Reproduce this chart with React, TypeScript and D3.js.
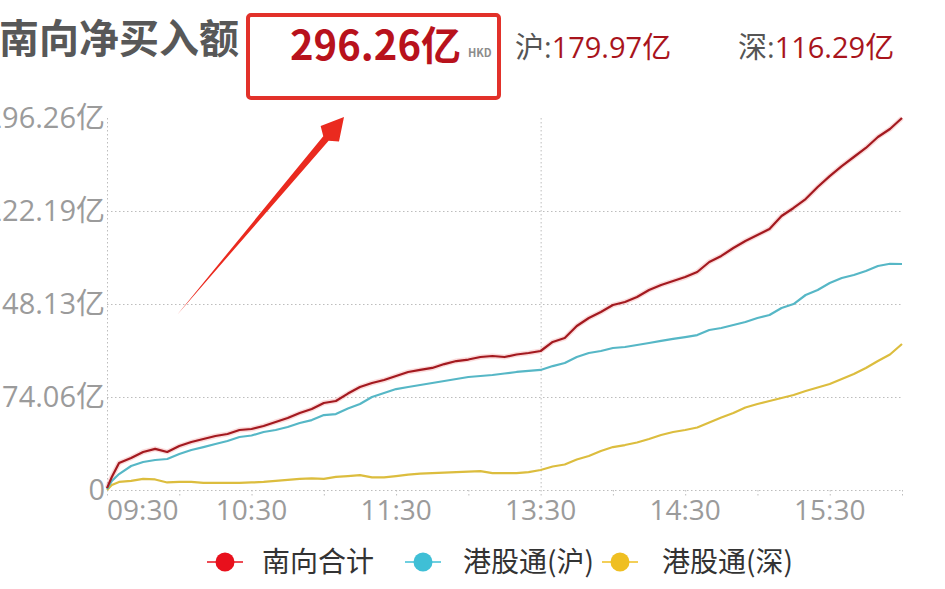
import * as d3 from "d3";
import React, { useEffect, useRef } from "react";

// sample times (trading minutes, lunch 12:00-13:00 skipped)
const times = [
    "09:30", "09:32", "09:35", "09:40", "09:45", "09:50", "09:55", "10:00", "10:05", "10:10",
    "10:15", "10:20", "10:25", "10:30", "10:35", "10:40", "10:45", "10:50", "10:55", "11:00",
    "11:05", "11:10", "11:15", "11:20", "11:25", "11:30", "11:35", "11:40", "11:45", "11:50",
    "11:55", "12:00", "13:05", "13:10", "13:15", "13:20", "13:25", "13:30", "13:35", "13:40",
    "13:45", "13:50", "13:55", "14:00", "14:05", "14:10", "14:15", "14:20", "14:25", "14:30",
    "14:35", "14:40", "14:45", "14:50", "14:55", "15:00", "15:05", "15:10", "15:15", "15:20",
    "15:25", "15:30", "15:35", "15:40", "15:45", "15:50", "15:55", "16:00",
];

// 南向合计
const southTotal = [
    1.5, 10.4, 21.5, 25.5, 30.3, 32.7, 30.3, 35, 38.2, 40.6,
    43, 44.6, 47.8, 48.6, 51, 54.2, 57.3, 61.3, 64.5, 69.3,
    70.9, 76.8, 82, 85.2, 87.6, 90.8, 94, 95.6, 97.2, 100.3,
    102.7, 103.9, 105.9, 106.7, 105.9, 107.9, 109.1, 110.7, 117.9, 121,
    130.6, 137, 141.8, 147.3, 149.7, 153.7, 159.3, 163.3, 166.4, 169.6,
    173.6, 181.6, 186.4, 192.7, 198.3, 203, 207.9, 218.2, 224.6, 231.7,
    241.3, 250, 258, 265.2, 272.4, 281.1, 287.5, 296.26,
];

// 港股通(沪)
const shanghai = [
    0.8, 7.2, 12.7, 19.1, 22.3, 23.9, 24.7, 28.7, 31.9, 34.2,
    36.6, 39, 42.2, 43.4, 46.2, 47.8, 50.2, 53.4, 55.7, 59.7,
    60.5, 64.9, 68.5, 74.1, 77.2, 80.4, 82, 83.6, 85.2, 86.8,
    88.4, 90, 90.8, 91.6, 92.8, 94, 94.8, 95.6, 98.7, 101.1,
    105.9, 109.1, 110.7, 113.1, 113.9, 115.5, 117.1, 118.7, 120.3, 121.8,
    123.4, 127.4, 129, 131.4, 133.8, 137, 139.4, 144.9, 148.1, 155.3,
    159.3, 164.8, 168.8, 171.2, 174.4, 178.4, 180.2, 179.97,
];

// 港股通(深)
const shenzhen = [
    0, 4, 6.4, 7.2, 8.8, 8.4, 6, 6.4, 6.4, 5.6,
    5.6, 5.6, 5.6, 6, 6.4, 7.2, 8, 8.8, 9.2, 8.8,
    10.4, 11.1, 11.9, 10, 10, 11.1, 12.3, 13.1, 13.5, 13.9,
    14.3, 14.7, 15.1, 13.5, 13.5, 13.5, 14.3, 15.9, 18.7, 20.3,
    24.3, 27.1, 31.1, 34.2, 35.8, 37.8, 40.6, 43.8, 46.2, 47.8,
    49.8, 53.8, 57.7, 61.3, 65.7, 68.5, 70.9, 73.3, 75.7, 78.8,
    81.6, 84.4, 88.4, 92.4, 97.2, 102.7, 107.9, 116.29,
];

const seriesNames = ["南向合计", "港股通(沪)", "港股通(深)"];
const lineColors = ["#a3191f", "#56b7c6", "#dcbd3e"];
const legendColors = ["#e8101c", "#3fbfd6", "#efbf22"];

const xTickLabels = ["09:30", "10:30", "11:30", "13:30", "14:30", "15:30"];
const yMax = 296.26;
const yTicks = [0, 74.06, 148.13, 222.19, 296.26];

const headTotal = "296.26亿";
const headSh = "179.97亿";
const headSz = "116.29亿";

const width = 945;
const height = 589;
const margin = { left: 107, right: 43, top: 118, bottom: 99 };
const cjk = "'Noto Sans CJK SC', 'Noto Sans', sans-serif";
const numFont = "'Open Sans', 'Noto Sans CJK SC', sans-serif";

// trading minute since 09:30, lunch break removed
const tradingMinute = (t: string) => {
    const [h, m] = t.split(":").map(Number);
    const mins = h * 60 + m;
    if (mins <= 12 * 60) return mins - (9 * 60 + 30);
    return 150 + (mins - 13 * 60);
};

const App: React.FC = () => {
    const wrapper = useRef<SVGSVGElement>(null);

    useEffect(() => {
        if (!wrapper.current) return;
        const svg = d3.select(wrapper.current);
        svg.selectAll("*").remove();
        svg.attr("width", width).attr("height", height).attr("viewBox", [0, 0, width, height]);

        const x = d3.scaleLinear().domain([0, 330]).range([margin.left, width - margin.right]);
        const y = d3.scaleLinear().domain([0, yMax]).range([height - margin.bottom, margin.top]);
        const x0 = margin.left, x1 = width - margin.right;
        const yb = y(0);

        // grid
        const grid = svg.append("g").attr("stroke", "#bdbdbd").attr("stroke-dasharray", "1.5,2.5").attr("stroke-width", 1);
        grid.selectAll("line.h")
            .data(yTicks.slice(0, 4))
            .join("line")
            .attr("class", "h")
            .attr("x1", x0).attr("x2", x1)
            .attr("y1", (d) => y(d) + 0.5).attr("y2", (d) => y(d) + 0.5);
        grid.selectAll("line.v")
            .data([0, 180])
            .join("line")
            .attr("class", "v")
            .attr("x1", (d) => x(d) + 0.5).attr("x2", (d) => x(d) + 0.5)
            .attr("y1", y(yMax)).attr("y2", yb);
        grid.selectAll("line.t")
            .data(d3.range(0, 331, 30))
            .join("line")
            .attr("class", "t")
            .attr("x1", (d) => x(d) + 0.5).attr("x2", (d) => x(d) + 0.5)
            .attr("y1", yb).attr("y2", yb + 6);

        // y labels (the widest ones run past the left edge, as in the source)
        svg.append("g")
            .selectAll("text")
            .data(yTicks)
            .join("text")
            .attr("x", x0 - 2)
            .attr("y", (d) => y(d))
            .attr("dy", "0.36em")
            .attr("text-anchor", "end")
            .attr("fill", "#9b9b9b")
            .style("font-family", numFont)
            .style("font-size", "29px")
            .text((d) => (d === 0 ? "0" : `${d.toFixed(2)}亿`));

        // x labels
        svg.append("g")
            .selectAll("text")
            .data(xTickLabels)
            .join("text")
            .attr("x", (d) => x(tradingMinute(d)))
            .attr("y", 520)
            .attr("text-anchor", (d, i) => (i === 0 ? "start" : "middle"))
            .attr("fill", "#9b9b9b")
            .style("font-family", numFont)
            .style("font-size", "28px")
            .text((d) => d);

        // series lines
        const seriesData = [southTotal, shanghai, shenzhen];
        const line = d3.line<number>()
            .x((_, i) => x(tradingMinute(times[i])))
            .y((d) => y(d));

        svg.append("path")
            .attr("d", line(southTotal))
            .attr("fill", "none")
            .attr("stroke", "rgba(235,90,90,0.22)")
            .attr("stroke-width", 5);

        [2, 1, 0].forEach((k) => {
            svg.append("path")
                .attr("d", line(seriesData[k]))
                .attr("fill", "none")
                .attr("stroke", lineColors[k])
                .attr("stroke-width", 2.2)
                .attr("stroke-linejoin", "round");
        });

        // header
        svg.append("text")
            .attr("x", -1).attr("y", 53)
            .attr("fill", "#585858")
            .style("font-family", cjk)
            .style("font-size", "40px")
            .style("font-weight", "bold")
            .text("南向净买入额");

        svg.append("rect")
            .attr("x", 248).attr("y", 15)
            .attr("width", 251).attr("height", 83)
            .attr("rx", 3)
            .attr("fill", "none")
            .attr("stroke", "#e2312a")
            .attr("stroke-width", 4);

        svg.append("text")
            .attr("x", 290).attr("y", 60)
            .attr("fill", "#b8121c")
            .style("font-family", cjk)
            .style("font-size", "40px")
            .style("font-weight", "bold")
            .text(headTotal);

        svg.append("text")
            .attr("x", 468).attr("y", 57)
            .attr("fill", "#8c8c8c")
            .style("font-family", cjk)
            .style("font-size", "11px")
            .style("font-weight", "bold")
            .text("HKD");

        const sub = [["沪:", headSh, 515], ["深:", headSz, 738]] as const;
        sub.forEach(([label, val, px]) => {
            const t = svg.append("text")
                .attr("x", px).attr("y", 58)
                .style("font-family", numFont)
                .style("font-size", "29px");
            t.append("tspan").attr("fill", "#555").text(label);
            t.append("tspan").attr("fill", "#a8141c").text(val);
        });

        // arrow from chart to the total
        const tail: [number, number] = [177, 315];
        const tip: [number, number] = [344, 117];
        const len = Math.hypot(tip[0] - tail[0], tip[1] - tail[1]);
        const ux = (tip[0] - tail[0]) / len, uy = (tip[1] - tail[1]) / len;
        const nx = -uy, ny = ux;
        const bx = tip[0] - 28 * ux, by = tip[1] - 28 * uy;
        const nbx = tip[0] - 22 * ux, nby = tip[1] - 22 * uy;
        const pts: Array<[number, number]> = [
            tail,
            [bx + 3.5 * nx, by + 3.5 * ny],
            [nbx + 12 * nx, nby + 12 * ny],
            tip,
            [nbx - 12 * nx, nby - 12 * ny],
            [bx - 3.5 * nx, by - 3.5 * ny],
        ];
        svg.append("path")
            .attr("d", d3.line()(pts) + "Z")
            .attr("fill", "#ea2a1f");

        // legend
        const legendX = [225, 423, 620];
        const legend = svg.append("g")
            .selectAll("g")
            .data(seriesNames)
            .join("g")
            .attr("transform", (_, i) => `translate(${legendX[i]}, 562)`);
        legend.append("line")
            .attr("x1", -18).attr("x2", 18)
            .attr("stroke", (_, i) => legendColors[i])
            .attr("stroke-width", 1.5);
        legend.append("circle")
            .attr("r", 9.5)
            .attr("fill", (_, i) => legendColors[i]);
        legend.append("text")
            .attr("x", (_, i) => [37, 40, 42][i])
            .attr("dy", "0.36em")
            .attr("fill", "#333")
            .style("font-family", cjk)
            .style("font-size", "28px")
            .text((d) => d);
    }, []);

    return <svg ref={wrapper} style={{ position: "absolute", left: 0, top: 0, background: "#fff" }} />;
};

export default App;
